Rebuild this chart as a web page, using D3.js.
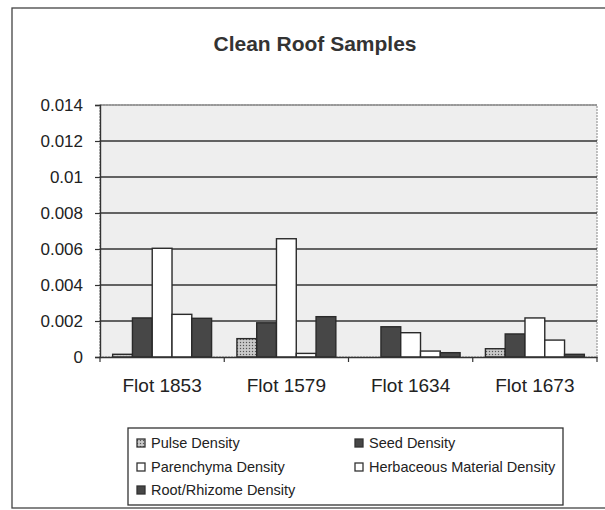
<!DOCTYPE html>
<html>
<head>
<meta charset="utf-8">
<script src="https://cdn.jsdelivr.net/npm/d3@7"></script>
<style>
body{margin:0;background:#fff;}
text{font-family:"Liberation Sans",Arial,sans-serif;fill:#222;}
</style>
</head>
<body>
<svg id="chart" width="605" height="510"></svg>
<script>
// categories and series
var samples=["Flot 1853","Flot 1579","Flot 1634","Flot 1673"];
var seriesNames=["Pulse Density","Seed Density","Parenchyma Density","Herbaceous Material Density","Root/Rhizome Density"];
var pulse=[0.00015,0.00102,0,0.00046];
var seed=[0.00217,0.0019,0.00168,0.00128];
var parenchyma=[0.00604,0.00657,0.00135,0.00217];
var herbaceous=[0.00237,0.0002,0.00033,0.00094];
var root=[0.00215,0.00224,0.00024,0.00015];
var yTicks=[0,0.002,0.004,0.006,0.008,0.01,0.012,0.014];

var seriesValues=[pulse,seed,parenchyma,herbaceous,root];
var fills=["url(#pulsePat)","#474747","#ffffff","#ffffff","#474747"];

var svg=d3.select("#chart");
var plotLeft=100,plotRight=597,plotTop=105,plotBottom=357;

// pattern for pulse
var defs=svg.append("defs");
var pat=defs.append("pattern").attr("id","pulsePat").attr("width",3).attr("height",3)
  .attr("patternUnits","userSpaceOnUse");
pat.append("rect").attr("width",3).attr("height",3).attr("fill","#bdbdbd");
pat.append("rect").attr("width",1).attr("height",1).attr("fill","#555");
pat.append("rect").attr("x",1.5).attr("y",1.5).attr("width",1).attr("height",1).attr("fill","#eee");

// outer border
svg.append("rect").attr("x",12).attr("y",8).attr("width",620).attr("height",500)
  .attr("fill","#fff").attr("stroke","#444").attr("stroke-width",1.3);

svg.append("text").attr("x",315).attr("y",51).attr("text-anchor","middle")
  .style("font-size","21px").style("font-weight","bold").style("fill","#333")
  .text("Clean Roof Samples");

var x=d3.scaleBand().domain(samples).range([plotLeft,plotRight]).padding(0);
var xs=d3.scaleBand().domain(d3.range(seriesNames.length)).range([0,x.bandwidth()])
  .paddingInner(0).paddingOuter(0.64);
var y=d3.scaleLinear().domain([0,0.014]).range([plotBottom,plotTop]);

// plot area
svg.append("rect").attr("x",plotLeft).attr("y",plotTop).attr("width",plotRight-plotLeft).attr("height",plotBottom-plotTop)
  .attr("fill","#eeeeee").attr("stroke","#9a9a9a").attr("stroke-width",1.2).attr("stroke-dasharray","2,1");

// gridlines
svg.append("g").selectAll("line").data(yTicks.slice(1)).join("line")
  .attr("x1",plotLeft).attr("x2",plotRight).attr("y1",d=>y(d)).attr("y2",d=>y(d))
  .attr("stroke",(d,i)=>i==yTicks.length-2?"#888":"#333").attr("stroke-width",1.4);

// bars
var groups=svg.append("g").selectAll("g").data(seriesValues).join("g")
  .attr("fill",(d,i)=>fills[i]);
groups.selectAll("rect").data((d,i)=>d.map((v,j)=>({v:v,s:i,c:samples[j]}))).join("rect")
  .filter(d=>d.v>0)
  .attr("x",d=>x(d.c)+xs(d.s))
  .attr("y",d=>y(d.v))
  .attr("width",xs.bandwidth())
  .attr("height",d=>y(0)-y(d.v))
  .attr("stroke","#2a2a2a").attr("stroke-width",1.4);

// y axis
var yAxis=svg.append("g").attr("transform","translate("+plotLeft+",0)")
  .call(d3.axisLeft(y).tickValues(yTicks).tickSize(5).tickPadding(12).tickFormat(d=>String(+d.toFixed(3))));
yAxis.select(".domain").attr("stroke","#333").attr("stroke-width",1.4);
yAxis.selectAll(".tick line").attr("stroke","#333").attr("stroke-width",1.2);
yAxis.selectAll(".tick text").style("font-size","17px").attr("fill","#222").style("font-family","Liberation Sans, Arial, sans-serif");

// x axis
var xAxis=svg.append("g").attr("transform","translate(0,"+plotBottom+")")
  .call(d3.axisBottom(x).tickSize(0).tickPadding(22));
xAxis.select(".domain").attr("stroke","#333").attr("stroke-width",1.4);
xAxis.selectAll(".tick text").style("font-size","19px").attr("fill","#222").style("font-family","Liberation Sans, Arial, sans-serif");
svg.append("g").selectAll("line").data(d3.range(samples.length+1)).join("line")
  .attr("x1",d=>plotLeft+d*x.step()).attr("x2",d=>plotLeft+d*x.step())
  .attr("y1",plotBottom).attr("y2",plotBottom+5).attr("stroke","#333").attr("stroke-width",1.2);

// legend
svg.append("rect").attr("x",128).attr("y",428).attr("width",435).attr("height",77)
  .attr("fill","#fff").attr("stroke","#333").attr("stroke-width",1.3);
var legPos=[[137,443],[355,443],[137,467],[355,467],[137,490]];
var leg=svg.append("g").selectAll("g").data(seriesNames).join("g")
  .attr("transform",(d,i)=>"translate("+legPos[i][0]+","+legPos[i][1]+")");
leg.append("rect").attr("x",0).attr("y",-4).attr("width",8).attr("height",8)
  .attr("fill",(d,i)=>fills[i]).attr("stroke","#333").attr("stroke-width",1.3);
leg.append("text").attr("x",14).attr("y",5).style("font-size","14.5px").text(d=>d);
</script>
</body>
</html>
